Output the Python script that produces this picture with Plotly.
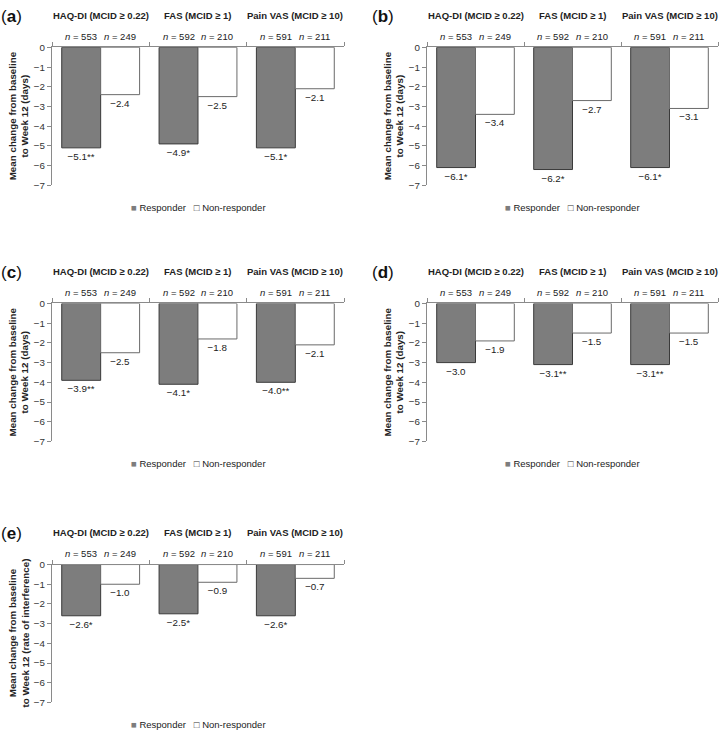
import plotly.graph_objects as go

# ---------------- data ----------------
groups = ["HAQ-DI (MCID ≥ 0.22)", "FAS (MCID ≥ 1)", "Pain VAS (MCID ≥ 10)"]
n_resp = [553, 592, 591]
n_non = [249, 210, 211]

a_resp = [-5.1, -4.9, -5.1]
a_non = [-2.4, -2.5, -2.1]
a_sig = ["**", "*", "*"]

b_resp = [-6.1, -6.2, -6.1]
b_non = [-3.4, -2.7, -3.1]
b_sig = ["*", "*", "*"]

c_resp = [-3.9, -4.1, -4.0]
c_non = [-2.5, -1.8, -2.1]
c_sig = ["**", "*", "**"]

d_resp = [-3.0, -3.1, -3.1]
d_non = [-1.9, -1.5, -1.5]
d_sig = ["", "**", "**"]

e_resp = [-2.6, -2.5, -2.6]
e_non = [-1.0, -0.9, -0.7]
e_sig = ["*", "*", "*"]

panel_letters = ["a", "b", "c", "d", "e"]
y_titles = ["Mean change from baseline<br>to Week 12 (days)"] * 4 + \
           ["Mean change from baseline<br>to Week 12 (rate of interference)"]
y_ticks = [0, -1, -2, -3, -4, -5, -6, -7]

# ---------------- layout geometry (px) ----------------
W, H = 722, 738
boxes = [  # x0, x1, ytop(zero), ybottom(-7)
    (52, 344, 42, 182),
    (427, 718, 42, 182),
    (52, 344, 302, 442),
    (427, 718, 302, 442),
    (52, 344, 567, 707),
]
label_x = [11, 383, 11, 383, 11]

FONT = "Liberation Sans, Arial, Helvetica, sans-serif"
TXT = "#222222"
AX = "#8a8a8a"
RESP_FILL = "#7d7d7d"
RESP_LINE = "#3a3a3a"
NON_LINE = "#6a6a6a"


def fmt(v, s=""):
    return f"−{abs(v):.1f}{s}"


panel_data = [
    (a_resp, a_non, a_sig),
    (b_resp, b_non, b_sig),
    (c_resp, c_non, c_sig),
    (d_resp, d_non, d_sig),
    (e_resp, e_non, e_sig),
]

fig = go.Figure()
layout = dict(
    width=W, height=H,
    margin=dict(l=0, r=0, t=0, b=0),
    paper_bgcolor="white", plot_bgcolor="white",
    barmode="group", bargap=0.2, bargroupgap=0,
    showlegend=False,
    font=dict(family=FONT, size=9.5, color=TXT),
)
annotations = []
xpos = list(range(len(groups)))

for i, ((resp, non, sig), (x0, x1, yt, yb)) in enumerate(zip(panel_data, boxes)):
    sfx = "" if i == 0 else str(i + 1)
    xa, ya = "x" + sfx, "y" + sfx
    fig.add_trace(go.Bar(
        x=xpos, y=resp, xaxis=xa, yaxis=ya, name="Responder",
        marker=dict(color=RESP_FILL, line=dict(color=RESP_LINE, width=1)),
        text=[fmt(v, s) for v, s in zip(resp, sig)], textposition="outside",
        textfont=dict(size=9.8, color=TXT), constraintext="none", cliponaxis=False,
    ))
    fig.add_trace(go.Bar(
        x=xpos, y=non, xaxis=xa, yaxis=ya, name="Non-responder",
        marker=dict(color="white", line=dict(color=NON_LINE, width=1)),
        text=[fmt(v) for v in non], textposition="outside",
        textfont=dict(size=9.8, color=TXT), constraintext="none", cliponaxis=False,
    ))
    layout["xaxis" + sfx] = dict(
        domain=[x0 / W, x1 / W], anchor=ya, side="top", range=[-0.5, 2.5],
        showline=True, linecolor=AX, linewidth=1,
        ticks="outside", ticklen=4, tickcolor=AX, tickwidth=1,
        tickvals=[-0.5, 0.5, 1.5, 2.5], showticklabels=False,
        showgrid=False, zeroline=False, fixedrange=True,
    )
    layout["yaxis" + sfx] = dict(
        domain=[1 - yb / H, 1 - yt / H], anchor=xa, range=[-7, 0],
        showline=True, linecolor=AX, linewidth=1,
        ticks="outside", ticklen=4, tickcolor=AX, tickwidth=1,
        tickvals=y_ticks, tickfont=dict(size=9.8, color="#333333"),
        showgrid=False, zeroline=False, fixedrange=True,
    )
    # group titles and n labels
    for g, name in enumerate(groups):
        annotations.append(dict(
            x=g, y=0, xref=xa, yref=ya, yshift=32, showarrow=False,
            text=f"<b>{name}</b>", font=dict(size=9.5, color=TXT),
            xanchor="center", yanchor="middle"))
        annotations.append(dict(
            x=g - 0.2, y=0, xref=xa, yref=ya, yshift=11, showarrow=False,
            text=f"<i>n</i> = {n_resp[g]}", font=dict(size=9.5, color=TXT),
            xanchor="center", yanchor="middle"))
        annotations.append(dict(
            x=g + 0.2, y=0, xref=xa, yref=ya, yshift=11, showarrow=False,
            text=f"<i>n</i> = {n_non[g]}", font=dict(size=9.5, color=TXT),
            xanchor="center", yanchor="middle"))
    # panel label
    annotations.append(dict(
        x=label_x[i] / W, y=0, xref="paper", yref=ya, yshift=31, showarrow=False,
        text=f"(<b>{panel_letters[i]}</b>)", font=dict(size=17, color="#111111"),
        xanchor="center", yanchor="middle"))
    # y title
    annotations.append(dict(
        x=(x0 - 33) / W, y=-3.5, xref="paper", yref=ya, showarrow=False,
        text=f"<b>{y_titles[i]}</b>", textangle=-90,
        font=dict(size=9.8, color=TXT), xanchor="center", yanchor="middle"))
    # legend
    annotations.append(dict(
        x=1, y=-7, xref=xa, yref=ya, yshift=-22, showarrow=False,
        text=(f'<span style="color:{RESP_FILL}">■</span> Responder   '
              f'<span style="color:#333333">□</span> Non-responder'),
        font=dict(size=9.5, color=TXT), xanchor="center", yanchor="middle"))

layout["annotations"] = annotations
fig.update_layout(**layout)
fig.write_html(
    "out.html",
    config={"displayModeBar": False},
    post_script="document.body.style.margin='0';document.body.style.padding='0';"
                "document.body.style.overflow='hidden';",
)
